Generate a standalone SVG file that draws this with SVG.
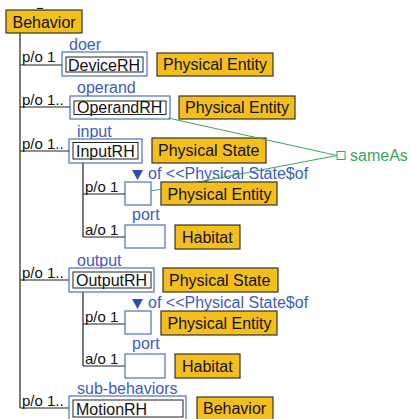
<svg xmlns="http://www.w3.org/2000/svg" width="411" height="419" viewBox="0 0 411 419">
<style>
text{font-family:"Liberation Sans",Arial,sans-serif;font-size:16px}
.cls{fill:#F5BF1B;stroke:#333;stroke-width:1.2}
.ob{fill:#fff;stroke:#4D6FC4;stroke-width:1.2}
.ib{fill:#fff;stroke:#222;stroke-width:1}
.lbl{fill:#3D5CC0}
.card{font-size:15px;fill:#111}
.t{fill:#111}
.tree line{stroke:#222;stroke-width:1.2}
.green{stroke:#3BA55C;stroke-width:1;fill:none}
</style>
<rect width="411" height="419" fill="#fff"/>
<g id="behavior">
<rect class="cls" x="6" y="10" width="76" height="23"/>
<text class="t" x="12.5" y="28">Behavior</text>
</g>
<g id="doer">
<text class="lbl" x="69" y="50">doer</text>
<rect class="ob" x="62" y="52" width="85" height="24"/>
<rect class="ib" x="66" y="57" width="77" height="15"/>
<text class="t" x="68" y="70.5">DeviceRH</text>
</g>
<g id="pe1">
<rect class="cls" x="157" y="53" width="116" height="23"/>
<text class="t" x="163" y="70">Physical Entity</text>
</g>
<g id="operand">
<text class="lbl" x="77" y="93">operand</text>
<rect class="ob" x="70" y="96" width="100" height="23"/>
<rect class="ib" x="74" y="101" width="92" height="13.5"/>
<text class="t" x="77" y="113">OperandRH</text>
</g>
<g id="pe2">
<rect class="cls" x="179" y="96" width="116" height="23"/>
<text class="t" x="185" y="113">Physical Entity</text>
</g>
<g id="input">
<text class="lbl" x="77" y="137">input</text>
<rect class="ob" x="69" y="139" width="73" height="24"/>
<rect class="ib" x="73" y="142.5" width="65" height="16.5"/>
<text class="t" x="76" y="156.5">InputRH</text>
</g>
<g id="ps1">
<rect class="cls" x="152" y="138" width="114" height="25"/>
<text class="t" x="158" y="156">Physical State</text>
</g>
<g id="sameAs">
<rect x="337" y="151.5" width="8" height="8" fill="#fff" stroke="#3BA55C" stroke-width="1"/>
<text x="350" y="161" fill="#3BA55C">sameAs</text>
</g>
<g id="input-of">
<rect class="ob" x="125" y="182" width="26" height="23"/>
<polygon points="132,170 143,170 137.5,180" fill="#2F4FB0"/>
<text class="lbl" x="148" y="179">of &lt;&lt;Physical State$of</text>
</g>
<g id="connectors">
<g class="tree">
<line x1="37" y1="8.5" x2="43" y2="8.5"/>
<line x1="20" y1="33" x2="20" y2="408"/>
<line x1="20" y1="65" x2="62" y2="65"/>
<line x1="20" y1="107" x2="70" y2="107"/>
<line x1="20" y1="151" x2="69" y2="151"/>
<line x1="20" y1="280" x2="69" y2="280"/>
<line x1="20" y1="408" x2="69" y2="408"/>
<line x1="83" y1="163" x2="83" y2="237"/>
<line x1="83" y1="194" x2="125" y2="194"/>
<line x1="83" y1="237" x2="125" y2="237"/>
<line x1="83" y1="292" x2="83" y2="366"/>
<line x1="83" y1="324" x2="125" y2="324"/>
<line x1="83" y1="366" x2="125" y2="366"/>
</g>
<line class="green" x1="168" y1="118" x2="337" y2="155.5"/>
<line class="green" x1="151" y1="191" x2="337" y2="155.5"/>
<text class="card" x="22" y="62">p/o 1</text>
<text class="card" x="22" y="105">p/o 1..</text>
<text class="card" x="22" y="149">p/o 1..</text>
<text class="card" x="22" y="278">p/o 1..</text>
<text class="card" x="22" y="406">p/o 1..</text>
<text class="card" x="85" y="192">p/o 1</text>
<text class="card" x="85" y="235">a/o 1</text>
<text class="card" x="85" y="322">p/o 1</text>
<text class="card" x="85" y="364">a/o 1</text>
</g>
<g id="pe3">
<rect class="cls" x="161" y="182" width="116" height="23"/>
<text class="t" x="167.5" y="200">Physical Entity</text>
</g>
<g id="input-port">
<text class="lbl" x="132" y="220">port</text>
<rect class="ob" x="125" y="225" width="40" height="23"/>
</g>
<g id="hab1">
<rect class="cls" x="175" y="225" width="65" height="24"/>
<text class="t" x="182" y="243">Habitat</text>
</g>
<g id="output">
<text class="lbl" x="77" y="266">output</text>
<rect class="ob" x="69" y="268" width="85" height="24"/>
<rect class="ib" x="73" y="272" width="78" height="16"/>
<text class="t" x="76" y="286">OutputRH</text>
</g>
<g id="ps2">
<rect class="cls" x="163" y="268" width="115" height="24"/>
<text class="t" x="169" y="286">Physical State</text>
</g>
<g id="output-of">
<rect class="ob" x="125" y="311" width="26" height="23"/>
<polygon points="132,299 143,299 137.5,309" fill="#2F4FB0"/>
<text class="lbl" x="148" y="308">of &lt;&lt;Physical State$of</text>
</g>
<g id="pe4">
<rect class="cls" x="161" y="311" width="116" height="24"/>
<text class="t" x="167.5" y="329">Physical Entity</text>
</g>
<g id="output-port">
<text class="lbl" x="132" y="349">port</text>
<rect class="ob" x="125" y="354" width="40" height="24"/>
</g>
<g id="hab2">
<rect class="cls" x="175" y="354" width="65" height="24"/>
<text class="t" x="182" y="372">Habitat</text>
</g>
<g id="subbehaviors">
<text class="lbl" x="77" y="394">sub-behaviors</text>
<rect class="ob" x="69" y="396" width="117" height="30"/>
<rect class="ib" x="73" y="400" width="110" height="17"/>
<text class="t" x="76" y="415">MotionRH</text>
</g>
<g id="behavior2">
<rect class="cls" x="197" y="397" width="76" height="30"/>
<text class="t" x="203" y="414">Behavior</text>
</g>
</svg>
